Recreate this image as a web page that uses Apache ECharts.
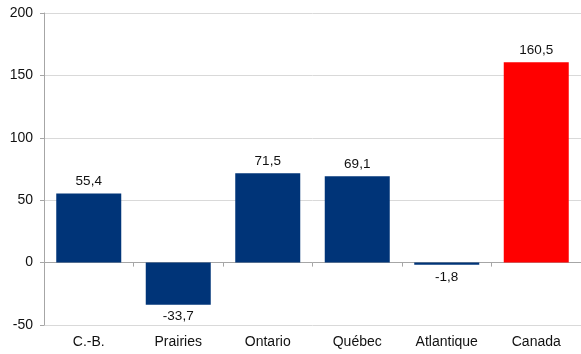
<!DOCTYPE html>
<html>
<head>
<meta charset="utf-8">
<script src="https://cdn.jsdelivr.net/npm/echarts@6/dist/echarts.min.js"></script>
<style>
  html, body { margin: 0; padding: 0; background: #fff; }
  #main { width: 581px; height: 354px; }
</style>
</head>
<body>
<div id="main"></div>
<script>
// données
const regions = ['C.-B.', 'Prairies', 'Ontario', 'Québec', 'Atlantique', 'Canada'];
const values = [55.4, -33.7, 71.5, 69.1, -1.8, 160.5];
const barColors = ['#003478', '#003478', '#003478', '#003478', '#003478', '#ff0000'];

const fontFam = 'Liberation Sans, Arial, sans-serif';

function fmt(v) {
    return String(v).replace('.', ',');
}

const seriesData = values.map((v, i) => ({
    value: v,
    itemStyle: { color: barColors[i] },
    label: { position: v < 0 ? 'bottom' : 'top' }
}));

const chart = echarts.init(document.getElementById('main'));
chart.setOption({
    animation: false,
    grid: { left: 44, top: 13, width: 539, height: 312, containLabel: false },
    xAxis: [
        {
            type: 'category',
            data: regions,
            position: 'bottom',
            axisLine: { onZero: true, lineStyle: { color: '#a6a6a6' } },
            axisTick: { show: true, length: 4, alignWithLabel: false, lineStyle: { color: '#a6a6a6' } },
            axisLabel: { show: false }
        },
        {
            type: 'category',
            data: regions,
            position: 'bottom',
            axisLine: { show: false, onZero: false },
            axisTick: { show: false },
            axisLabel: { color: '#111', fontSize: 14, fontFamily: fontFam, margin: 10 }
        }
    ],
    yAxis: {
        type: 'value',
        min: -50,
        max: 200,
        interval: 50,
        axisLine: { show: true, lineStyle: { color: '#a6a6a6' } },
        axisTick: { show: true, length: 4, lineStyle: { color: '#a6a6a6' } },
        axisLabel: { color: '#111', fontSize: 14, fontFamily: fontFam, margin: 11 },
        splitLine: { lineStyle: { color: '#d9d9d9' } }
    },
    series: [{
        type: 'bar',
        xAxisIndex: 0,
        data: seriesData,
        barWidth: 65,
        label: {
            show: true,
            color: '#111',
            fontSize: 13.5,
            fontFamily: fontFam,
            distance: 5,
            formatter: p => fmt(p.value)
        }
    }]
});
</script>
</body>
</html>
